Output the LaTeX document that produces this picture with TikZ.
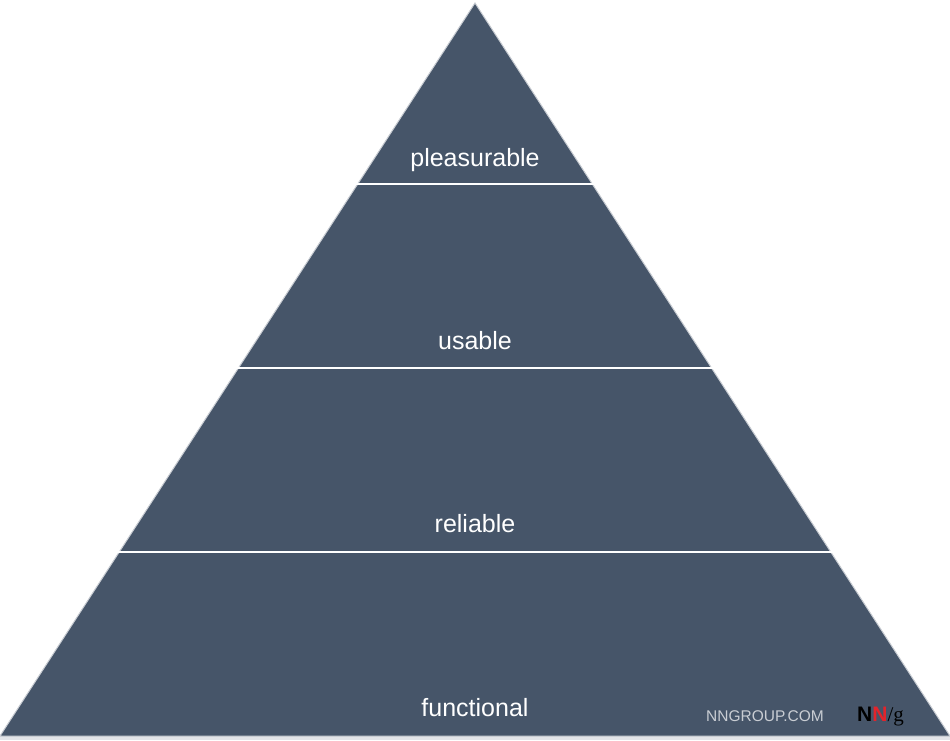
\documentclass[tikz,border=0pt]{standalone}
\usepackage{fontspec}
\setmainfont{Liberation Sans}
\newfontfamily\serifl{Liberation Serif}
\definecolor{pyr}{HTML}{465569}
\definecolor{edge}{HTML}{C8CCD2}
\definecolor{logogray}{HTML}{C9CDD3}
\definecolor{nnred}{HTML}{E3242B}
\begin{document}
\begin{tikzpicture}[x=1pt,y=-1pt,
  lbl/.style={text=white,font=\fontsize{25}{30}\selectfont,inner sep=0pt,anchor=base},
  sep/.style={draw=white,line width=1.5pt}]
\useasboundingbox (0,0) rectangle (950,740);
\fill[white] (0,0) rectangle (950,740);
\fill[edge!50] (0,735) rectangle (950,740);
\coordinate (apex) at (475,3);
\coordinate (bl) at (0,736);
\coordinate (br) at (950,736);
\fill[pyr,draw=edge,line width=1pt] (apex) -- (br) -- (bl) -- cycle;
\draw[sep] (356,184) -- (594,184);
\draw[sep] (237,368) -- (713,368);
\draw[sep] (118,552) -- (832,552);
\node[lbl] (t1) at (475,166) {pleasurable};
\node[lbl] (t2) at (475,349) {usable};
\node[lbl] (t3) at (475,532) {reliable};
\node[lbl] (t4) at (475,716) {functional};
\node[text=logogray,font=\fontsize{15.5}{18}\selectfont,anchor=base,inner sep=0pt] (logo) at (765,721) {NNGROUP.COM};
\node[anchor=base west,inner sep=0pt,font=\fontsize{21}{24}\selectfont] (nng) at (857,721)
  {{\bfseries\color{black}N}{\bfseries\color{nnred}N}{\serifl\color{black}/g}};
\end{tikzpicture}
\end{document}
